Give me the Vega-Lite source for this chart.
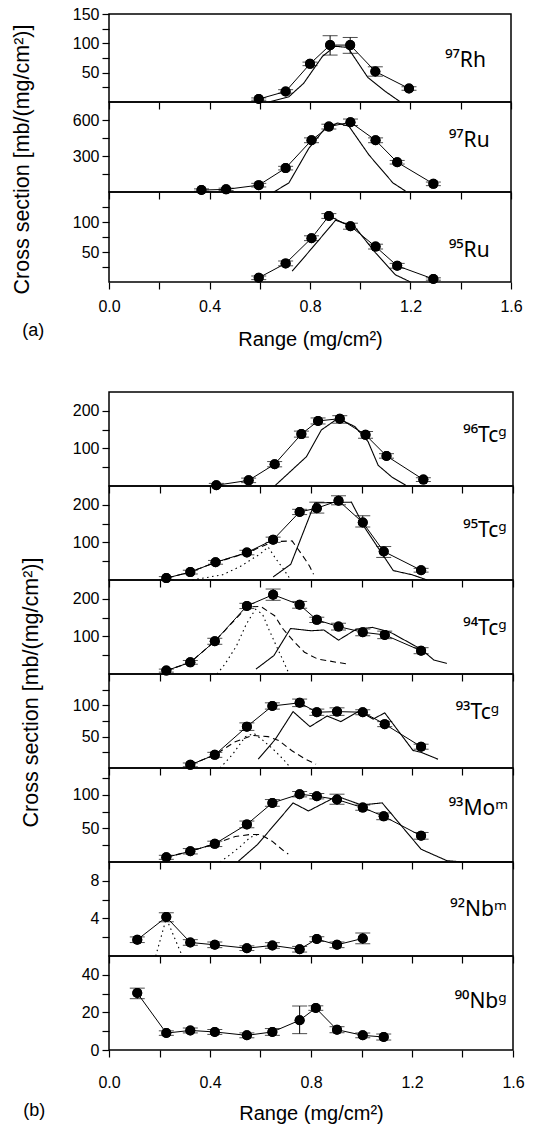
{
"$schema": "https://vega.github.io/schema/vega-lite/v6.json",
"padding": {"left": 10, "top": 5, "right": 5, "bottom": 0},
"config": {
 "font": "Liberation Sans",
 "view": {"stroke": "black", "strokeWidth": 1.5},
 "axis": {"domain": false, "grid": false, "labelFont": "Liberation Sans", "labelFontSize": 16, "labelColor": "black", "tickColor": "black", "tickWidth": 1.2, "tickSize": 7, "titleFont": "Liberation Sans", "titleFontSize": 21.5, "titleFontWeight": "normal", "titleColor": "black", "labelFlush": false, "labelOverlap": false, "labelPadding": 3},
 "title": {"font": "Liberation Sans", "fontSize": 18, "fontWeight": "normal", "color": "black"}
},
"datasets": {
 "pts": [
  {"p":"Rh97","x":0.596,"y":5,"lo":3,"hi":7},
  {"p":"Rh97","x":0.703,"y":18,"lo":15,"hi":21},
  {"p":"Rh97","x":0.800,"y":65,"lo":62,"hi":68},
  {"p":"Rh97","x":0.880,"y":97,"lo":80,"hi":113},
  {"p":"Rh97","x":0.960,"y":97,"lo":83,"hi":110},
  {"p":"Rh97","x":1.060,"y":52,"lo":44,"hi":60},
  {"p":"Rh97","x":1.194,"y":23,"lo":20,"hi":26},
  {"p":"Ru97","x":0.368,"y":16,"lo":6,"hi":26},
  {"p":"Ru97","x":0.466,"y":22,"lo":12,"hi":32},
  {"p":"Ru97","x":0.596,"y":57,"lo":42,"hi":72},
  {"p":"Ru97","x":0.703,"y":199,"lo":184,"hi":214},
  {"p":"Ru97","x":0.806,"y":431,"lo":411,"hi":451},
  {"p":"Ru97","x":0.875,"y":545,"lo":525,"hi":565},
  {"p":"Ru97","x":0.961,"y":581,"lo":554,"hi":608},
  {"p":"Ru97","x":1.061,"y":431,"lo":411,"hi":451},
  {"p":"Ru97","x":1.147,"y":248,"lo":233,"hi":263},
  {"p":"Ru97","x":1.291,"y":68,"lo":53,"hi":83},
  {"p":"Ru95","x":0.596,"y":7,"lo":4,"hi":10},
  {"p":"Ru95","x":0.703,"y":31,"lo":27,"hi":35},
  {"p":"Ru95","x":0.806,"y":73,"lo":69,"hi":77},
  {"p":"Ru95","x":0.875,"y":110,"lo":106,"hi":114},
  {"p":"Ru95","x":0.961,"y":93,"lo":88,"hi":98},
  {"p":"Ru95","x":1.061,"y":59,"lo":55,"hi":63},
  {"p":"Ru95","x":1.147,"y":27,"lo":23,"hi":31},
  {"p":"Ru95","x":1.291,"y":5,"lo":3,"hi":7},
  {"p":"Tc96","x":0.425,"y":2,"lo":0,"hi":7},
  {"p":"Tc96","x":0.553,"y":15,"lo":9,"hi":21},
  {"p":"Tc96","x":0.656,"y":58,"lo":51,"hi":65},
  {"p":"Tc96","x":0.762,"y":138,"lo":130,"hi":146},
  {"p":"Tc96","x":0.828,"y":173,"lo":165,"hi":181},
  {"p":"Tc96","x":0.914,"y":179,"lo":167,"hi":187},
  {"p":"Tc96","x":1.016,"y":136,"lo":127,"hi":145},
  {"p":"Tc96","x":1.099,"y":80,"lo":74,"hi":86},
  {"p":"Tc96","x":1.245,"y":17,"lo":12,"hi":22},
  {"p":"Tc95","x":0.227,"y":5,"lo":1,"hi":9},
  {"p":"Tc95","x":0.322,"y":21,"lo":16,"hi":26},
  {"p":"Tc95","x":0.422,"y":47,"lo":42,"hi":52},
  {"p":"Tc95","x":0.546,"y":73,"lo":67,"hi":79},
  {"p":"Tc95","x":0.650,"y":107,"lo":100,"hi":114},
  {"p":"Tc95","x":0.755,"y":181,"lo":174,"hi":188},
  {"p":"Tc95","x":0.823,"y":191,"lo":178,"hi":207},
  {"p":"Tc95","x":0.909,"y":211,"lo":200,"hi":224},
  {"p":"Tc95","x":1.005,"y":153,"lo":141,"hi":171},
  {"p":"Tc95","x":1.088,"y":76,"lo":60,"hi":89},
  {"p":"Tc95","x":1.236,"y":26,"lo":21,"hi":31},
  {"p":"Tc94","x":0.227,"y":9,"lo":5,"hi":13},
  {"p":"Tc94","x":0.322,"y":31,"lo":26,"hi":36},
  {"p":"Tc94","x":0.419,"y":87,"lo":79,"hi":95},
  {"p":"Tc94","x":0.546,"y":181,"lo":174,"hi":188},
  {"p":"Tc94","x":0.650,"y":211,"lo":196,"hi":226},
  {"p":"Tc94","x":0.755,"y":184,"lo":175,"hi":193},
  {"p":"Tc94","x":0.823,"y":144,"lo":137,"hi":151},
  {"p":"Tc94","x":0.909,"y":126,"lo":117,"hi":135},
  {"p":"Tc94","x":1.005,"y":111,"lo":102,"hi":120},
  {"p":"Tc94","x":1.092,"y":104,"lo":94,"hi":114},
  {"p":"Tc94","x":1.236,"y":62,"lo":54,"hi":70},
  {"p":"Tc93","x":0.322,"y":5,"lo":2,"hi":8},
  {"p":"Tc93","x":0.419,"y":21,"lo":17,"hi":25},
  {"p":"Tc93","x":0.546,"y":66,"lo":60,"hi":72},
  {"p":"Tc93","x":0.647,"y":99,"lo":94,"hi":104},
  {"p":"Tc93","x":0.755,"y":104,"lo":98,"hi":110},
  {"p":"Tc93","x":0.823,"y":89,"lo":84,"hi":94},
  {"p":"Tc93","x":0.903,"y":90,"lo":84,"hi":96},
  {"p":"Tc93","x":1.005,"y":89,"lo":85,"hi":93},
  {"p":"Tc93","x":1.092,"y":70,"lo":66,"hi":74},
  {"p":"Tc93","x":1.236,"y":34,"lo":30,"hi":38},
  {"p":"Mo93","x":0.227,"y":7,"lo":4,"hi":10},
  {"p":"Mo93","x":0.322,"y":16,"lo":12,"hi":20},
  {"p":"Mo93","x":0.419,"y":27,"lo":23,"hi":31},
  {"p":"Mo93","x":0.546,"y":56,"lo":51,"hi":61},
  {"p":"Mo93","x":0.647,"y":88,"lo":83,"hi":93},
  {"p":"Mo93","x":0.755,"y":101,"lo":97,"hi":105},
  {"p":"Mo93","x":0.823,"y":98,"lo":94,"hi":102},
  {"p":"Mo93","x":0.903,"y":93,"lo":86,"hi":101},
  {"p":"Mo93","x":1.005,"y":81,"lo":77,"hi":85},
  {"p":"Mo93","x":1.088,"y":68,"lo":63,"hi":73},
  {"p":"Mo93","x":1.236,"y":39,"lo":34,"hi":44},
  {"p":"Nb92","x":0.112,"y":1.73,"lo":1.43,"hi":2.03},
  {"p":"Nb92","x":0.227,"y":4.14,"lo":3.64,"hi":4.6},
  {"p":"Nb92","x":0.322,"y":1.44,"lo":1.14,"hi":1.74},
  {"p":"Nb92","x":0.419,"y":1.19,"lo":0.89,"hi":1.49},
  {"p":"Nb92","x":0.546,"y":0.83,"lo":0.58,"hi":1.08},
  {"p":"Nb92","x":0.647,"y":1.12,"lo":0.82,"hi":1.42},
  {"p":"Nb92","x":0.755,"y":0.72,"lo":0.42,"hi":1.02},
  {"p":"Nb92","x":0.823,"y":1.8,"lo":1.55,"hi":2.05},
  {"p":"Nb92","x":0.903,"y":1.19,"lo":0.89,"hi":1.49},
  {"p":"Nb92","x":1.005,"y":1.87,"lo":1.3,"hi":2.45},
  {"p":"Nb90","x":0.112,"y":30.3,"lo":27.3,"hi":32.9},
  {"p":"Nb90","x":0.227,"y":9.0,"lo":7.8,"hi":10.2},
  {"p":"Nb90","x":0.322,"y":10.4,"lo":9.1,"hi":11.7},
  {"p":"Nb90","x":0.419,"y":9.6,"lo":8.3,"hi":10.9},
  {"p":"Nb90","x":0.546,"y":7.8,"lo":6.5,"hi":9.1},
  {"p":"Nb90","x":0.647,"y":9.6,"lo":7.8,"hi":11.4},
  {"p":"Nb90","x":0.755,"y":15.8,"lo":8.7,"hi":23.4},
  {"p":"Nb90","x":0.819,"y":22.3,"lo":21.1,"hi":23.5},
  {"p":"Nb90","x":0.903,"y":10.8,"lo":9.2,"hi":12.4},
  {"p":"Nb90","x":1.005,"y":7.8,"lo":6.5,"hi":9.1},
  {"p":"Nb90","x":1.088,"y":6.9,"lo":5.3,"hi":8.5}
 ],
 "curves": [
  {"p":"Rh97","k":"solid","x":0.636,"y":0},{"p":"Rh97","k":"solid","x":0.716,"y":9},{"p":"Rh97","k":"solid","x":0.775,"y":32},{"p":"Rh97","k":"solid","x":0.85,"y":78},{"p":"Rh97","k":"solid","x":0.9,"y":95},{"p":"Rh97","k":"solid","x":0.95,"y":93},{"p":"Rh97","k":"solid","x":1.03,"y":42},{"p":"Rh97","k":"solid","x":1.1,"y":18},{"p":"Rh97","k":"solid","x":1.16,"y":0},
  {"p":"Ru97","k":"solid","x":0.656,"y":0},{"p":"Ru97","k":"solid","x":0.716,"y":76},{"p":"Ru97","k":"solid","x":0.795,"y":363},{"p":"Ru97","k":"solid","x":0.86,"y":530},{"p":"Ru97","k":"solid","x":0.91,"y":575},{"p":"Ru97","k":"solid","x":0.955,"y":548},{"p":"Ru97","k":"solid","x":1.035,"y":308},{"p":"Ru97","k":"solid","x":1.13,"y":76},{"p":"Ru97","k":"solid","x":1.18,"y":8},
  {"p":"Ru95","k":"solid","x":0.729,"y":18},{"p":"Ru95","k":"solid","x":0.809,"y":57},{"p":"Ru95","k":"solid","x":0.902,"y":103},{"p":"Ru95","k":"solid","x":0.98,"y":91},{"p":"Ru95","k":"solid","x":1.06,"y":49},{"p":"Ru95","k":"solid","x":1.14,"y":12},{"p":"Ru95","k":"solid","x":1.2,"y":0},
  {"p":"Tc96","k":"solid","x":0.656,"y":0},{"p":"Tc96","k":"solid","x":0.782,"y":78},{"p":"Tc96","k":"solid","x":0.841,"y":149},{"p":"Tc96","k":"solid","x":0.907,"y":180},{"p":"Tc96","k":"solid","x":0.974,"y":158},{"p":"Tc96","k":"solid","x":1.026,"y":118},{"p":"Tc96","k":"solid","x":1.066,"y":55},{"p":"Tc96","k":"solid","x":1.12,"y":24},{"p":"Tc96","k":"solid","x":1.175,"y":2},
  {"p":"Tc95","k":"solid","x":0.65,"y":8},{"p":"Tc95","k":"solid","x":0.72,"y":42},{"p":"Tc95","k":"solid","x":0.815,"y":205},{"p":"Tc95","k":"solid","x":0.96,"y":207},{"p":"Tc95","k":"solid","x":1.012,"y":140},{"p":"Tc95","k":"solid","x":1.126,"y":25},{"p":"Tc95","k":"solid","x":1.2,"y":14},{"p":"Tc95","k":"solid","x":1.26,"y":0},
  {"p":"Tc95","k":"dotted","x":0.33,"y":0},{"p":"Tc95","k":"dotted","x":0.45,"y":14},{"p":"Tc95","k":"dotted","x":0.52,"y":36},{"p":"Tc95","k":"dotted","x":0.6,"y":70},{"p":"Tc95","k":"dotted","x":0.63,"y":88},{"p":"Tc95","k":"dotted","x":0.66,"y":57},{"p":"Tc95","k":"dotted","x":0.69,"y":30},{"p":"Tc95","k":"dotted","x":0.72,"y":0},
  {"p":"Tc95","k":"dashed","x":0.23,"y":5},{"p":"Tc95","k":"dashed","x":0.32,"y":21},{"p":"Tc95","k":"dashed","x":0.42,"y":46},{"p":"Tc95","k":"dashed","x":0.55,"y":73},{"p":"Tc95","k":"dashed","x":0.65,"y":102},{"p":"Tc95","k":"dashed","x":0.725,"y":104},{"p":"Tc95","k":"dashed","x":0.755,"y":76},{"p":"Tc95","k":"dashed","x":0.78,"y":52},{"p":"Tc95","k":"dashed","x":0.795,"y":36},{"p":"Tc95","k":"dashed","x":0.81,"y":15},
  {"p":"Tc94","k":"solid","x":0.582,"y":13},{"p":"Tc94","k":"solid","x":0.653,"y":49},{"p":"Tc94","k":"solid","x":0.719,"y":121},{"p":"Tc94","k":"solid","x":0.8,"y":115},{"p":"Tc94","k":"solid","x":0.851,"y":117},{"p":"Tc94","k":"solid","x":0.909,"y":90},{"p":"Tc94","k":"solid","x":0.979,"y":119},{"p":"Tc94","k":"solid","x":1.044,"y":124},{"p":"Tc94","k":"solid","x":1.114,"y":111},{"p":"Tc94","k":"solid","x":1.236,"y":66},{"p":"Tc94","k":"solid","x":1.287,"y":37},{"p":"Tc94","k":"solid","x":1.338,"y":28},
  {"p":"Tc94","k":"dotted","x":0.428,"y":0},{"p":"Tc94","k":"dotted","x":0.46,"y":27},{"p":"Tc94","k":"dotted","x":0.505,"y":75},{"p":"Tc94","k":"dotted","x":0.544,"y":133},{"p":"Tc94","k":"dotted","x":0.58,"y":172},{"p":"Tc94","k":"dotted","x":0.608,"y":159},{"p":"Tc94","k":"dotted","x":0.633,"y":119},{"p":"Tc94","k":"dotted","x":0.659,"y":80},{"p":"Tc94","k":"dotted","x":0.69,"y":35},{"p":"Tc94","k":"dotted","x":0.71,"y":5},
  {"p":"Tc94","k":"dashed","x":0.227,"y":9},{"p":"Tc94","k":"dashed","x":0.322,"y":31},{"p":"Tc94","k":"dashed","x":0.419,"y":87},{"p":"Tc94","k":"dashed","x":0.546,"y":178},{"p":"Tc94","k":"dashed","x":0.6,"y":180},{"p":"Tc94","k":"dashed","x":0.656,"y":155},{"p":"Tc94","k":"dashed","x":0.69,"y":119},{"p":"Tc94","k":"dashed","x":0.736,"y":84},{"p":"Tc94","k":"dashed","x":0.774,"y":58},{"p":"Tc94","k":"dashed","x":0.826,"y":40},{"p":"Tc94","k":"dashed","x":0.903,"y":31},{"p":"Tc94","k":"dashed","x":0.941,"y":27},
  {"p":"Tc93","k":"solid","x":0.591,"y":14},{"p":"Tc93","k":"solid","x":0.659,"y":46},{"p":"Tc93","k":"solid","x":0.729,"y":90},{"p":"Tc93","k":"solid","x":0.796,"y":66},{"p":"Tc93","k":"solid","x":0.864,"y":83},{"p":"Tc93","k":"solid","x":0.918,"y":74},{"p":"Tc93","k":"solid","x":0.992,"y":91},{"p":"Tc93","k":"solid","x":1.046,"y":78},{"p":"Tc93","k":"solid","x":1.092,"y":88},{"p":"Tc93","k":"solid","x":1.204,"y":28},{"p":"Tc93","k":"solid","x":1.236,"y":25},{"p":"Tc93","k":"solid","x":1.303,"y":14},
  {"p":"Tc93","k":"dotted","x":0.44,"y":0},{"p":"Tc93","k":"dotted","x":0.49,"y":22},{"p":"Tc93","k":"dotted","x":0.54,"y":50},{"p":"Tc93","k":"dotted","x":0.575,"y":55},{"p":"Tc93","k":"dotted","x":0.61,"y":44},{"p":"Tc93","k":"dotted","x":0.65,"y":30},{"p":"Tc93","k":"dotted","x":0.69,"y":14},{"p":"Tc93","k":"dotted","x":0.72,"y":0},
  {"p":"Tc93","k":"dashed","x":0.322,"y":5},{"p":"Tc93","k":"dashed","x":0.419,"y":21},{"p":"Tc93","k":"dashed","x":0.5,"y":42},{"p":"Tc93","k":"dashed","x":0.57,"y":52},{"p":"Tc93","k":"dashed","x":0.63,"y":50},{"p":"Tc93","k":"dashed","x":0.672,"y":44},{"p":"Tc93","k":"dashed","x":0.723,"y":28},{"p":"Tc93","k":"dashed","x":0.774,"y":15},{"p":"Tc93","k":"dashed","x":0.82,"y":6},
  {"p":"Mo93","k":"solid","x":0.512,"y":1},{"p":"Mo93","k":"solid","x":0.588,"y":26},{"p":"Mo93","k":"solid","x":0.729,"y":88},{"p":"Mo93","k":"solid","x":0.79,"y":76},{"p":"Mo93","k":"solid","x":0.903,"y":98},{"p":"Mo93","k":"solid","x":0.999,"y":85},{"p":"Mo93","k":"solid","x":1.082,"y":88},{"p":"Mo93","k":"solid","x":1.236,"y":19},{"p":"Mo93","k":"solid","x":1.338,"y":2},{"p":"Mo93","k":"solid","x":1.4,"y":0},{"p":"Mo93","k":"solid","x":1.6,"y":0},
  {"p":"Mo93","k":"dotted","x":0.44,"y":0},{"p":"Mo93","k":"dotted","x":0.48,"y":11},{"p":"Mo93","k":"dotted","x":0.52,"y":23},{"p":"Mo93","k":"dotted","x":0.56,"y":37},{"p":"Mo93","k":"dotted","x":0.59,"y":41},
  {"p":"Mo93","k":"dashed","x":0.227,"y":7},{"p":"Mo93","k":"dashed","x":0.322,"y":16},{"p":"Mo93","k":"dashed","x":0.419,"y":27},{"p":"Mo93","k":"dashed","x":0.5,"y":38},{"p":"Mo93","k":"dashed","x":0.56,"y":41},{"p":"Mo93","k":"dashed","x":0.6,"y":41},{"p":"Mo93","k":"dashed","x":0.646,"y":31},{"p":"Mo93","k":"dashed","x":0.697,"y":15},{"p":"Mo93","k":"dashed","x":0.71,"y":12},
  {"p":"Nb92","k":"dotted","x":0.185,"y":0},{"p":"Nb92","k":"dotted","x":0.227,"y":4.0},{"p":"Nb92","k":"dotted","x":0.29,"y":0}
 ]
},
"spacing": 41,
"vconcat": [
 {
  "spacing": 0, "bounds": "flush",
  "title": {"text": "(a)", "orient": "bottom", "anchor": "start", "frame": "bounds", "offset": -28, "dx": 12},
  "vconcat": [
   {"width": 402, "height": 88, "resolve": {"axis": {"x": "independent", "y": "independent"}}, "layer": [
    {"data": {"name": "pts"}, "transform": [{"filter": "datum.p==='Rh97'"}], "mark": {"type": "point", "filled": true, "color": "black", "size": 100, "opacity": 1}, "encoding": {"x": {"field": "x", "type": "quantitative", "scale": {"domain": [0,1.6], "nice": false, "zero": false}, "axis": {"orient": "bottom", "values": [0,0.2,0.4,0.6,0.8,1,1.2,1.4,1.6], "labels": false, "title": null}}, "y": {"field": "y", "type": "quantitative", "scale": {"domain": [0,150], "nice": false, "zero": false}, "axis": {"orient": "left", "values": [25,50,75,100,125,150], "title": null, "labelExpr": "datum.value%50===0 ? datum.label : ''"}}}},
    {"data": {"name": "pts"}, "transform": [{"filter": "datum.p==='Rh97'"}], "mark": {"type": "line", "color": "black", "strokeWidth": 1}, "encoding": {"x": {"field": "x", "type": "quantitative", "scale": {"domain": [0,1.6], "nice": false, "zero": false}, "axis": null}, "y": {"field": "y", "type": "quantitative", "scale": {"domain": [0,150], "nice": false, "zero": false}, "axis": null}}},
    {"data": {"name": "curves"}, "transform": [{"filter": "datum.p==='Rh97'"}], "mark": {"type": "line", "color": "black", "strokeWidth": 1.1}, "encoding": {"x": {"field": "x", "type": "quantitative", "scale": {"domain": [0,1.6], "nice": false, "zero": false}, "axis": null}, "y": {"field": "y", "type": "quantitative", "scale": {"domain": [0,150], "nice": false, "zero": false}, "axis": null}, "strokeDash": {"field": "k", "type": "nominal", "scale": {"domain": ["solid","dotted","dashed"], "range": [[1,0],[1.5,3.5],[6,4]]}, "legend": null}}},
    {"data": {"name": "pts"}, "transform": [{"filter": "datum.p==='Rh97'"}], "mark": {"type": "errorbar", "ticks": {"size": 15}, "color": "black"}, "encoding": {"x": {"field": "x", "type": "quantitative", "scale": {"domain": [0,1.6], "nice": false, "zero": false}, "axis": null}, "y": {"field": "lo", "type": "quantitative", "scale": {"domain": [0,150], "nice": false, "zero": false}, "axis": null}, "y2": {"field": "hi"}}},
    {"data": {"name": "pts"}, "transform": [{"filter": "datum.p==='Rh97'"}], "mark": {"type": "point", "filled": true, "color": "black", "size": 100, "opacity": 1}, "encoding": {"x": {"field": "x", "type": "quantitative", "scale": {"domain": [0,1.6], "nice": false, "zero": false}, "axis": null}, "y": {"field": "y", "type": "quantitative", "scale": {"domain": [0,150], "nice": false, "zero": false}, "axis": null}}},
    {"data": {"values": [{"t": "⁹⁷Rh"}]}, "mark": {"type": "text", "align": "right", "baseline": "middle", "fontSize": 21, "font": "Noto Sans", "color": "black"}, "encoding": {"x": {"datum": 1.5, "type": "quantitative", "scale": {"domain": [0,1.6], "nice": false, "zero": false}, "axis": null}, "y": {"datum": 70, "type": "quantitative", "scale": {"domain": [0,150], "nice": false, "zero": false}, "axis": null}, "text": {"field": "t"}}}
   ]},
   {"width": 402, "height": 90, "resolve": {"axis": {"x": "independent", "y": "independent"}}, "layer": [
    {"data": {"name": "pts"}, "transform": [{"filter": "datum.p==='Ru97'"}], "mark": {"type": "point", "filled": true, "color": "black", "size": 100, "opacity": 1}, "encoding": {"x": {"field": "x", "type": "quantitative", "scale": {"domain": [0,1.6], "nice": false, "zero": false}, "axis": {"orient": "bottom", "values": [0,0.2,0.4,0.6,0.8,1,1.2,1.4,1.6], "labels": false, "title": null}}, "y": {"field": "y", "type": "quantitative", "scale": {"domain": [0,750], "nice": false, "zero": false}, "axis": {"orient": "left", "values": [150,300,450,600], "title": "Cross section [mb/(mg/cm²)]", "titleX": -87, "titleY": 57, "titleBaseline": "middle", "labelExpr": "datum.value%300===0 ? datum.label : ''"}}}},
    {"data": {"name": "pts"}, "transform": [{"filter": "datum.p==='Ru97'"}], "mark": {"type": "line", "color": "black", "strokeWidth": 1}, "encoding": {"x": {"field": "x", "type": "quantitative", "scale": {"domain": [0,1.6], "nice": false, "zero": false}, "axis": null}, "y": {"field": "y", "type": "quantitative", "scale": {"domain": [0,750], "nice": false, "zero": false}, "axis": null}}},
    {"data": {"name": "curves"}, "transform": [{"filter": "datum.p==='Ru97'"}], "mark": {"type": "line", "color": "black", "strokeWidth": 1.1}, "encoding": {"x": {"field": "x", "type": "quantitative", "scale": {"domain": [0,1.6], "nice": false, "zero": false}, "axis": null}, "y": {"field": "y", "type": "quantitative", "scale": {"domain": [0,750], "nice": false, "zero": false}, "axis": null}, "strokeDash": {"field": "k", "type": "nominal", "scale": {"domain": ["solid","dotted","dashed"], "range": [[1,0],[1.5,3.5],[6,4]]}, "legend": null}}},
    {"data": {"name": "pts"}, "transform": [{"filter": "datum.p==='Ru97'"}], "mark": {"type": "errorbar", "ticks": {"size": 15}, "color": "black"}, "encoding": {"x": {"field": "x", "type": "quantitative", "scale": {"domain": [0,1.6], "nice": false, "zero": false}, "axis": null}, "y": {"field": "lo", "type": "quantitative", "scale": {"domain": [0,750], "nice": false, "zero": false}, "axis": null}, "y2": {"field": "hi"}}},
    {"data": {"name": "pts"}, "transform": [{"filter": "datum.p==='Ru97'"}], "mark": {"type": "point", "filled": true, "color": "black", "size": 100, "opacity": 1}, "encoding": {"x": {"field": "x", "type": "quantitative", "scale": {"domain": [0,1.6], "nice": false, "zero": false}, "axis": null}, "y": {"field": "y", "type": "quantitative", "scale": {"domain": [0,750], "nice": false, "zero": false}, "axis": null}}},
    {"data": {"values": [{"t": "⁹⁷Ru"}]}, "mark": {"type": "text", "align": "right", "baseline": "middle", "fontSize": 21, "font": "Noto Sans", "color": "black"}, "encoding": {"x": {"datum": 1.515, "type": "quantitative", "scale": {"domain": [0,1.6], "nice": false, "zero": false}, "axis": null}, "y": {"datum": 422, "type": "quantitative", "scale": {"domain": [0,750], "nice": false, "zero": false}, "axis": null}, "text": {"field": "t"}}}
   ]},
   {"width": 402, "height": 90, "resolve": {"axis": {"x": "independent", "y": "independent"}}, "layer": [
    {"data": {"name": "pts"}, "transform": [{"filter": "datum.p==='Ru95'"}], "mark": {"type": "point", "filled": true, "color": "black", "size": 100, "opacity": 1}, "encoding": {"x": {"field": "x", "type": "quantitative", "scale": {"domain": [0,1.6], "nice": false, "zero": false}, "axis": {"orient": "bottom", "values": [0,0.2,0.4,0.6,0.8,1,1.2,1.4,1.6], "format": ".1f", "labelExpr": "round(datum.value*10)%4===0 ? datum.label : ''", "title": "Range (mg/cm²)", "titleFontSize": 20, "titlePadding": 15, "labelPadding": 9}}, "y": {"field": "y", "type": "quantitative", "scale": {"domain": [0,150], "nice": false, "zero": false}, "axis": {"orient": "left", "values": [25,50,75,100,125], "title": null, "labelExpr": "datum.value%50===0 ? datum.label : ''"}}}},
    {"data": {"name": "pts"}, "transform": [{"filter": "datum.p==='Ru95'"}], "mark": {"type": "line", "color": "black", "strokeWidth": 1}, "encoding": {"x": {"field": "x", "type": "quantitative", "scale": {"domain": [0,1.6], "nice": false, "zero": false}, "axis": null}, "y": {"field": "y", "type": "quantitative", "scale": {"domain": [0,150], "nice": false, "zero": false}, "axis": null}}},
    {"data": {"name": "curves"}, "transform": [{"filter": "datum.p==='Ru95'"}], "mark": {"type": "line", "color": "black", "strokeWidth": 1.1}, "encoding": {"x": {"field": "x", "type": "quantitative", "scale": {"domain": [0,1.6], "nice": false, "zero": false}, "axis": null}, "y": {"field": "y", "type": "quantitative", "scale": {"domain": [0,150], "nice": false, "zero": false}, "axis": null}, "strokeDash": {"field": "k", "type": "nominal", "scale": {"domain": ["solid","dotted","dashed"], "range": [[1,0],[1.5,3.5],[6,4]]}, "legend": null}}},
    {"data": {"name": "pts"}, "transform": [{"filter": "datum.p==='Ru95'"}], "mark": {"type": "errorbar", "ticks": {"size": 15}, "color": "black"}, "encoding": {"x": {"field": "x", "type": "quantitative", "scale": {"domain": [0,1.6], "nice": false, "zero": false}, "axis": null}, "y": {"field": "lo", "type": "quantitative", "scale": {"domain": [0,150], "nice": false, "zero": false}, "axis": null}, "y2": {"field": "hi"}}},
    {"data": {"name": "pts"}, "transform": [{"filter": "datum.p==='Ru95'"}], "mark": {"type": "point", "filled": true, "color": "black", "size": 100, "opacity": 1}, "encoding": {"x": {"field": "x", "type": "quantitative", "scale": {"domain": [0,1.6], "nice": false, "zero": false}, "axis": null}, "y": {"field": "y", "type": "quantitative", "scale": {"domain": [0,150], "nice": false, "zero": false}, "axis": null}}},
    {"data": {"values": [{"t": "⁹⁵Ru"}]}, "mark": {"type": "text", "align": "right", "baseline": "middle", "fontSize": 21, "font": "Noto Sans", "color": "black"}, "encoding": {"x": {"datum": 1.515, "type": "quantitative", "scale": {"domain": [0,1.6], "nice": false, "zero": false}, "axis": null}, "y": {"datum": 51, "type": "quantitative", "scale": {"domain": [0,150], "nice": false, "zero": false}, "axis": null}, "text": {"field": "t"}}}
   ]}
  ]
 },
 {
  "spacing": 0, "bounds": "flush",
  "title": {"text": "(b)", "orient": "bottom", "anchor": "start", "frame": "bounds", "offset": -22, "dx": 4},
  "vconcat": [
   {"width": 404, "height": 94, "resolve": {"axis": {"x": "independent", "y": "independent"}}, "layer": [
    {"data": {"name": "pts"}, "transform": [{"filter": "datum.p==='Tc96'"}], "mark": {"type": "point", "filled": true, "color": "black", "size": 100, "opacity": 1}, "encoding": {"x": {"field": "x", "type": "quantitative", "scale": {"domain": [0,1.6], "nice": false, "zero": false}, "axis": {"orient": "bottom", "values": [0,0.2,0.4,0.6,0.8,1,1.2,1.4,1.6], "labels": false, "title": null}}, "y": {"field": "y", "type": "quantitative", "scale": {"domain": [0,250], "nice": false, "zero": false}, "axis": {"orient": "left", "values": [50,100,150,200], "title": null, "labelExpr": "datum.value%100===0 ? datum.label : ''"}}}},
    {"data": {"name": "pts"}, "transform": [{"filter": "datum.p==='Tc96'"}], "mark": {"type": "line", "color": "black", "strokeWidth": 1}, "encoding": {"x": {"field": "x", "type": "quantitative", "scale": {"domain": [0,1.6], "nice": false, "zero": false}, "axis": null}, "y": {"field": "y", "type": "quantitative", "scale": {"domain": [0,250], "nice": false, "zero": false}, "axis": null}}},
    {"data": {"name": "curves"}, "transform": [{"filter": "datum.p==='Tc96'"}], "mark": {"type": "line", "color": "black", "strokeWidth": 1.1}, "encoding": {"x": {"field": "x", "type": "quantitative", "scale": {"domain": [0,1.6], "nice": false, "zero": false}, "axis": null}, "y": {"field": "y", "type": "quantitative", "scale": {"domain": [0,250], "nice": false, "zero": false}, "axis": null}, "strokeDash": {"field": "k", "type": "nominal", "scale": {"domain": ["solid","dotted","dashed"], "range": [[1,0],[1.5,3.5],[6,4]]}, "legend": null}}},
    {"data": {"name": "pts"}, "transform": [{"filter": "datum.p==='Tc96'"}], "mark": {"type": "errorbar", "ticks": {"size": 15}, "color": "black"}, "encoding": {"x": {"field": "x", "type": "quantitative", "scale": {"domain": [0,1.6], "nice": false, "zero": false}, "axis": null}, "y": {"field": "lo", "type": "quantitative", "scale": {"domain": [0,250], "nice": false, "zero": false}, "axis": null}, "y2": {"field": "hi"}}},
    {"data": {"name": "pts"}, "transform": [{"filter": "datum.p==='Tc96'"}], "mark": {"type": "point", "filled": true, "color": "black", "size": 100, "opacity": 1}, "encoding": {"x": {"field": "x", "type": "quantitative", "scale": {"domain": [0,1.6], "nice": false, "zero": false}, "axis": null}, "y": {"field": "y", "type": "quantitative", "scale": {"domain": [0,250], "nice": false, "zero": false}, "axis": null}}},
    {"data": {"values": [{"t": "⁹⁶Tcᵍ"}]}, "mark": {"type": "text", "align": "right", "baseline": "middle", "fontSize": 21, "font": "Noto Sans", "color": "black"}, "encoding": {"x": {"datum": 1.575, "type": "quantitative", "scale": {"domain": [0,1.6], "nice": false, "zero": false}, "axis": null}, "y": {"datum": 132, "type": "quantitative", "scale": {"domain": [0,250], "nice": false, "zero": false}, "axis": null}, "text": {"field": "t"}}}
   ]},
   {"width": 404, "height": 94, "resolve": {"axis": {"x": "independent", "y": "independent"}}, "layer": [
    {"data": {"name": "pts"}, "transform": [{"filter": "datum.p==='Tc95'"}], "mark": {"type": "point", "filled": true, "color": "black", "size": 100, "opacity": 1}, "encoding": {"x": {"field": "x", "type": "quantitative", "scale": {"domain": [0,1.6], "nice": false, "zero": false}, "axis": {"orient": "bottom", "values": [0,0.2,0.4,0.6,0.8,1,1.2,1.4,1.6], "labels": false, "title": null}}, "y": {"field": "y", "type": "quantitative", "scale": {"domain": [0,250], "nice": false, "zero": false}, "axis": {"orient": "left", "values": [50,100,150,200], "title": null, "labelExpr": "datum.value%100===0 ? datum.label : ''"}}}},
    {"data": {"name": "pts"}, "transform": [{"filter": "datum.p==='Tc95'"}], "mark": {"type": "line", "color": "black", "strokeWidth": 1}, "encoding": {"x": {"field": "x", "type": "quantitative", "scale": {"domain": [0,1.6], "nice": false, "zero": false}, "axis": null}, "y": {"field": "y", "type": "quantitative", "scale": {"domain": [0,250], "nice": false, "zero": false}, "axis": null}}},
    {"data": {"name": "curves"}, "transform": [{"filter": "datum.p==='Tc95'"}], "mark": {"type": "line", "color": "black", "strokeWidth": 1.1}, "encoding": {"x": {"field": "x", "type": "quantitative", "scale": {"domain": [0,1.6], "nice": false, "zero": false}, "axis": null}, "y": {"field": "y", "type": "quantitative", "scale": {"domain": [0,250], "nice": false, "zero": false}, "axis": null}, "strokeDash": {"field": "k", "type": "nominal", "scale": {"domain": ["solid","dotted","dashed"], "range": [[1,0],[1.5,3.5],[6,4]]}, "legend": null}}},
    {"data": {"name": "pts"}, "transform": [{"filter": "datum.p==='Tc95'"}], "mark": {"type": "errorbar", "ticks": {"size": 15}, "color": "black"}, "encoding": {"x": {"field": "x", "type": "quantitative", "scale": {"domain": [0,1.6], "nice": false, "zero": false}, "axis": null}, "y": {"field": "lo", "type": "quantitative", "scale": {"domain": [0,250], "nice": false, "zero": false}, "axis": null}, "y2": {"field": "hi"}}},
    {"data": {"name": "pts"}, "transform": [{"filter": "datum.p==='Tc95'"}], "mark": {"type": "point", "filled": true, "color": "black", "size": 100, "opacity": 1}, "encoding": {"x": {"field": "x", "type": "quantitative", "scale": {"domain": [0,1.6], "nice": false, "zero": false}, "axis": null}, "y": {"field": "y", "type": "quantitative", "scale": {"domain": [0,250], "nice": false, "zero": false}, "axis": null}}},
    {"data": {"values": [{"t": "⁹⁵Tcᵍ"}]}, "mark": {"type": "text", "align": "right", "baseline": "middle", "fontSize": 21, "font": "Noto Sans", "color": "black"}, "encoding": {"x": {"datum": 1.575, "type": "quantitative", "scale": {"domain": [0,1.6], "nice": false, "zero": false}, "axis": null}, "y": {"datum": 131, "type": "quantitative", "scale": {"domain": [0,250], "nice": false, "zero": false}, "axis": null}, "text": {"field": "t"}}}
   ]},
   {"width": 404, "height": 94, "resolve": {"axis": {"x": "independent", "y": "independent"}}, "layer": [
    {"data": {"name": "pts"}, "transform": [{"filter": "datum.p==='Tc94'"}], "mark": {"type": "point", "filled": true, "color": "black", "size": 100, "opacity": 1}, "encoding": {"x": {"field": "x", "type": "quantitative", "scale": {"domain": [0,1.6], "nice": false, "zero": false}, "axis": {"orient": "bottom", "values": [0,0.2,0.4,0.6,0.8,1,1.2,1.4,1.6], "labels": false, "title": null}}, "y": {"field": "y", "type": "quantitative", "scale": {"domain": [0,250], "nice": false, "zero": false}, "axis": {"orient": "left", "values": [50,100,150,200], "title": null, "labelExpr": "datum.value%100===0 ? datum.label : ''"}}}},
    {"data": {"name": "pts"}, "transform": [{"filter": "datum.p==='Tc94'"}], "mark": {"type": "line", "color": "black", "strokeWidth": 1}, "encoding": {"x": {"field": "x", "type": "quantitative", "scale": {"domain": [0,1.6], "nice": false, "zero": false}, "axis": null}, "y": {"field": "y", "type": "quantitative", "scale": {"domain": [0,250], "nice": false, "zero": false}, "axis": null}}},
    {"data": {"name": "curves"}, "transform": [{"filter": "datum.p==='Tc94'"}], "mark": {"type": "line", "color": "black", "strokeWidth": 1.1}, "encoding": {"x": {"field": "x", "type": "quantitative", "scale": {"domain": [0,1.6], "nice": false, "zero": false}, "axis": null}, "y": {"field": "y", "type": "quantitative", "scale": {"domain": [0,250], "nice": false, "zero": false}, "axis": null}, "strokeDash": {"field": "k", "type": "nominal", "scale": {"domain": ["solid","dotted","dashed"], "range": [[1,0],[1.5,3.5],[6,4]]}, "legend": null}}},
    {"data": {"name": "pts"}, "transform": [{"filter": "datum.p==='Tc94'"}], "mark": {"type": "errorbar", "ticks": {"size": 15}, "color": "black"}, "encoding": {"x": {"field": "x", "type": "quantitative", "scale": {"domain": [0,1.6], "nice": false, "zero": false}, "axis": null}, "y": {"field": "lo", "type": "quantitative", "scale": {"domain": [0,250], "nice": false, "zero": false}, "axis": null}, "y2": {"field": "hi"}}},
    {"data": {"name": "pts"}, "transform": [{"filter": "datum.p==='Tc94'"}], "mark": {"type": "point", "filled": true, "color": "black", "size": 100, "opacity": 1}, "encoding": {"x": {"field": "x", "type": "quantitative", "scale": {"domain": [0,1.6], "nice": false, "zero": false}, "axis": null}, "y": {"field": "y", "type": "quantitative", "scale": {"domain": [0,250], "nice": false, "zero": false}, "axis": null}}},
    {"data": {"values": [{"t": "⁹⁴Tcᵍ"}]}, "mark": {"type": "text", "align": "right", "baseline": "middle", "fontSize": 21, "font": "Noto Sans", "color": "black"}, "encoding": {"x": {"datum": 1.575, "type": "quantitative", "scale": {"domain": [0,1.6], "nice": false, "zero": false}, "axis": null}, "y": {"datum": 119, "type": "quantitative", "scale": {"domain": [0,250], "nice": false, "zero": false}, "axis": null}, "text": {"field": "t"}}}
   ]},
   {"width": 404, "height": 94, "resolve": {"axis": {"x": "independent", "y": "independent"}}, "layer": [
    {"data": {"name": "pts"}, "transform": [{"filter": "datum.p==='Tc93'"}], "mark": {"type": "point", "filled": true, "color": "black", "size": 100, "opacity": 1}, "encoding": {"x": {"field": "x", "type": "quantitative", "scale": {"domain": [0,1.6], "nice": false, "zero": false}, "axis": {"orient": "bottom", "values": [0,0.2,0.4,0.6,0.8,1,1.2,1.4,1.6], "labels": false, "title": null}}, "y": {"field": "y", "type": "quantitative", "scale": {"domain": [0,150], "nice": false, "zero": false}, "axis": {"orient": "left", "values": [25,50,75,100,125], "title": "Cross section [mb/(mg/cm²)]", "titleX": -78, "titleY": 18, "titleBaseline": "middle", "labelExpr": "datum.value%50===0 ? datum.label : ''"}}}},
    {"data": {"name": "pts"}, "transform": [{"filter": "datum.p==='Tc93'"}], "mark": {"type": "line", "color": "black", "strokeWidth": 1}, "encoding": {"x": {"field": "x", "type": "quantitative", "scale": {"domain": [0,1.6], "nice": false, "zero": false}, "axis": null}, "y": {"field": "y", "type": "quantitative", "scale": {"domain": [0,150], "nice": false, "zero": false}, "axis": null}}},
    {"data": {"name": "curves"}, "transform": [{"filter": "datum.p==='Tc93'"}], "mark": {"type": "line", "color": "black", "strokeWidth": 1.1}, "encoding": {"x": {"field": "x", "type": "quantitative", "scale": {"domain": [0,1.6], "nice": false, "zero": false}, "axis": null}, "y": {"field": "y", "type": "quantitative", "scale": {"domain": [0,150], "nice": false, "zero": false}, "axis": null}, "strokeDash": {"field": "k", "type": "nominal", "scale": {"domain": ["solid","dotted","dashed"], "range": [[1,0],[1.5,3.5],[6,4]]}, "legend": null}}},
    {"data": {"name": "pts"}, "transform": [{"filter": "datum.p==='Tc93'"}], "mark": {"type": "errorbar", "ticks": {"size": 15}, "color": "black"}, "encoding": {"x": {"field": "x", "type": "quantitative", "scale": {"domain": [0,1.6], "nice": false, "zero": false}, "axis": null}, "y": {"field": "lo", "type": "quantitative", "scale": {"domain": [0,150], "nice": false, "zero": false}, "axis": null}, "y2": {"field": "hi"}}},
    {"data": {"name": "pts"}, "transform": [{"filter": "datum.p==='Tc93'"}], "mark": {"type": "point", "filled": true, "color": "black", "size": 100, "opacity": 1}, "encoding": {"x": {"field": "x", "type": "quantitative", "scale": {"domain": [0,1.6], "nice": false, "zero": false}, "axis": null}, "y": {"field": "y", "type": "quantitative", "scale": {"domain": [0,150], "nice": false, "zero": false}, "axis": null}}},
    {"data": {"values": [{"t": "⁹³Tcᵍ"}]}, "mark": {"type": "text", "align": "right", "baseline": "middle", "fontSize": 21, "font": "Noto Sans", "color": "black"}, "encoding": {"x": {"datum": 1.545, "type": "quantitative", "scale": {"domain": [0,1.6], "nice": false, "zero": false}, "axis": null}, "y": {"datum": 88, "type": "quantitative", "scale": {"domain": [0,150], "nice": false, "zero": false}, "axis": null}, "text": {"field": "t"}}}
   ]},
   {"width": 404, "height": 94, "resolve": {"axis": {"x": "independent", "y": "independent"}}, "layer": [
    {"data": {"name": "pts"}, "transform": [{"filter": "datum.p==='Mo93'"}], "mark": {"type": "point", "filled": true, "color": "black", "size": 100, "opacity": 1}, "encoding": {"x": {"field": "x", "type": "quantitative", "scale": {"domain": [0,1.6], "nice": false, "zero": false}, "axis": {"orient": "bottom", "values": [0,0.2,0.4,0.6,0.8,1,1.2,1.4,1.6], "labels": false, "title": null}}, "y": {"field": "y", "type": "quantitative", "scale": {"domain": [0,140], "nice": false, "zero": false}, "axis": {"orient": "left", "values": [25,50,75,100,125], "title": null, "labelExpr": "datum.value%50===0 ? datum.label : ''"}}}},
    {"data": {"name": "pts"}, "transform": [{"filter": "datum.p==='Mo93'"}], "mark": {"type": "line", "color": "black", "strokeWidth": 1}, "encoding": {"x": {"field": "x", "type": "quantitative", "scale": {"domain": [0,1.6], "nice": false, "zero": false}, "axis": null}, "y": {"field": "y", "type": "quantitative", "scale": {"domain": [0,140], "nice": false, "zero": false}, "axis": null}}},
    {"data": {"name": "curves"}, "transform": [{"filter": "datum.p==='Mo93'"}], "mark": {"type": "line", "color": "black", "strokeWidth": 1.1}, "encoding": {"x": {"field": "x", "type": "quantitative", "scale": {"domain": [0,1.6], "nice": false, "zero": false}, "axis": null}, "y": {"field": "y", "type": "quantitative", "scale": {"domain": [0,140], "nice": false, "zero": false}, "axis": null}, "strokeDash": {"field": "k", "type": "nominal", "scale": {"domain": ["solid","dotted","dashed"], "range": [[1,0],[1.5,3.5],[6,4]]}, "legend": null}}},
    {"data": {"name": "pts"}, "transform": [{"filter": "datum.p==='Mo93'"}], "mark": {"type": "errorbar", "ticks": {"size": 15}, "color": "black"}, "encoding": {"x": {"field": "x", "type": "quantitative", "scale": {"domain": [0,1.6], "nice": false, "zero": false}, "axis": null}, "y": {"field": "lo", "type": "quantitative", "scale": {"domain": [0,140], "nice": false, "zero": false}, "axis": null}, "y2": {"field": "hi"}}},
    {"data": {"name": "pts"}, "transform": [{"filter": "datum.p==='Mo93'"}], "mark": {"type": "point", "filled": true, "color": "black", "size": 100, "opacity": 1}, "encoding": {"x": {"field": "x", "type": "quantitative", "scale": {"domain": [0,1.6], "nice": false, "zero": false}, "axis": null}, "y": {"field": "y", "type": "quantitative", "scale": {"domain": [0,140], "nice": false, "zero": false}, "axis": null}}},
    {"data": {"values": [{"t": "⁹³Moᵐ"}]}, "mark": {"type": "text", "align": "right", "baseline": "middle", "fontSize": 21, "font": "Noto Sans", "color": "black"}, "encoding": {"x": {"datum": 1.58, "type": "quantitative", "scale": {"domain": [0,1.6], "nice": false, "zero": false}, "axis": null}, "y": {"datum": 79, "type": "quantitative", "scale": {"domain": [0,140], "nice": false, "zero": false}, "axis": null}, "text": {"field": "t"}}}
   ]},
   {"width": 404, "height": 94, "resolve": {"axis": {"x": "independent", "y": "independent"}}, "layer": [
    {"data": {"name": "pts"}, "transform": [{"filter": "datum.p==='Nb92'"}], "mark": {"type": "point", "filled": true, "color": "black", "size": 100, "opacity": 1}, "encoding": {"x": {"field": "x", "type": "quantitative", "scale": {"domain": [0,1.6], "nice": false, "zero": false}, "axis": {"orient": "bottom", "values": [0,0.2,0.4,0.6,0.8,1,1.2,1.4,1.6], "labels": false, "title": null}}, "y": {"field": "y", "type": "quantitative", "scale": {"domain": [0,10], "nice": false, "zero": false}, "axis": {"orient": "left", "values": [2,4,6,8], "title": null, "labelExpr": "datum.value%4===0 ? datum.label : ''"}}}},
    {"data": {"name": "pts"}, "transform": [{"filter": "datum.p==='Nb92'"}], "mark": {"type": "line", "color": "black", "strokeWidth": 1}, "encoding": {"x": {"field": "x", "type": "quantitative", "scale": {"domain": [0,1.6], "nice": false, "zero": false}, "axis": null}, "y": {"field": "y", "type": "quantitative", "scale": {"domain": [0,10], "nice": false, "zero": false}, "axis": null}}},
    {"data": {"name": "curves"}, "transform": [{"filter": "datum.p==='Nb92'"}], "mark": {"type": "line", "color": "black", "strokeWidth": 1.1}, "encoding": {"x": {"field": "x", "type": "quantitative", "scale": {"domain": [0,1.6], "nice": false, "zero": false}, "axis": null}, "y": {"field": "y", "type": "quantitative", "scale": {"domain": [0,10], "nice": false, "zero": false}, "axis": null}, "strokeDash": {"field": "k", "type": "nominal", "scale": {"domain": ["solid","dotted","dashed"], "range": [[1,0],[1.5,3.5],[6,4]]}, "legend": null}}},
    {"data": {"name": "pts"}, "transform": [{"filter": "datum.p==='Nb92'"}], "mark": {"type": "errorbar", "ticks": {"size": 15}, "color": "black"}, "encoding": {"x": {"field": "x", "type": "quantitative", "scale": {"domain": [0,1.6], "nice": false, "zero": false}, "axis": null}, "y": {"field": "lo", "type": "quantitative", "scale": {"domain": [0,10], "nice": false, "zero": false}, "axis": null}, "y2": {"field": "hi"}}},
    {"data": {"name": "pts"}, "transform": [{"filter": "datum.p==='Nb92'"}], "mark": {"type": "point", "filled": true, "color": "black", "size": 100, "opacity": 1}, "encoding": {"x": {"field": "x", "type": "quantitative", "scale": {"domain": [0,1.6], "nice": false, "zero": false}, "axis": null}, "y": {"field": "y", "type": "quantitative", "scale": {"domain": [0,10], "nice": false, "zero": false}, "axis": null}}},
    {"data": {"values": [{"t": "⁹²Nbᵐ"}]}, "mark": {"type": "text", "align": "right", "baseline": "middle", "fontSize": 21, "font": "Noto Sans", "color": "black"}, "encoding": {"x": {"datum": 1.575, "type": "quantitative", "scale": {"domain": [0,1.6], "nice": false, "zero": false}, "axis": null}, "y": {"datum": 4.9, "type": "quantitative", "scale": {"domain": [0,10], "nice": false, "zero": false}, "axis": null}, "text": {"field": "t"}}}
   ]},
   {"width": 404, "height": 94, "resolve": {"axis": {"x": "independent", "y": "independent"}}, "layer": [
    {"data": {"name": "pts"}, "transform": [{"filter": "datum.p==='Nb90'"}], "mark": {"type": "point", "filled": true, "color": "black", "size": 100, "opacity": 1}, "encoding": {"x": {"field": "x", "type": "quantitative", "scale": {"domain": [0,1.6], "nice": false, "zero": false}, "axis": {"orient": "bottom", "values": [0,0.2,0.4,0.6,0.8,1,1.2,1.4,1.6], "format": ".1f", "labelExpr": "round(datum.value*10)%4===0 ? datum.label : ''", "title": "Range (mg/cm²)", "titleFontSize": 20, "titlePadding": 13, "labelPadding": 17}}, "y": {"field": "y", "type": "quantitative", "scale": {"domain": [0,50], "nice": false, "zero": false}, "axis": {"orient": "left", "values": [0,10,20,30,40], "title": null, "labelExpr": "datum.value%20===0 ? datum.label : ''"}}}},
    {"data": {"name": "pts"}, "transform": [{"filter": "datum.p==='Nb90'"}], "mark": {"type": "line", "color": "black", "strokeWidth": 1}, "encoding": {"x": {"field": "x", "type": "quantitative", "scale": {"domain": [0,1.6], "nice": false, "zero": false}, "axis": null}, "y": {"field": "y", "type": "quantitative", "scale": {"domain": [0,50], "nice": false, "zero": false}, "axis": null}}},
    {"data": {"name": "pts"}, "transform": [{"filter": "datum.p==='Nb90'"}], "mark": {"type": "errorbar", "ticks": {"size": 15}, "color": "black"}, "encoding": {"x": {"field": "x", "type": "quantitative", "scale": {"domain": [0,1.6], "nice": false, "zero": false}, "axis": null}, "y": {"field": "lo", "type": "quantitative", "scale": {"domain": [0,50], "nice": false, "zero": false}, "axis": null}, "y2": {"field": "hi"}}},
    {"data": {"name": "pts"}, "transform": [{"filter": "datum.p==='Nb90'"}], "mark": {"type": "point", "filled": true, "color": "black", "size": 100, "opacity": 1}, "encoding": {"x": {"field": "x", "type": "quantitative", "scale": {"domain": [0,1.6], "nice": false, "zero": false}, "axis": null}, "y": {"field": "y", "type": "quantitative", "scale": {"domain": [0,50], "nice": false, "zero": false}, "axis": null}}},
    {"data": {"values": [{"t": "⁹⁰Nbᵍ"}]}, "mark": {"type": "text", "align": "right", "baseline": "middle", "fontSize": 21, "font": "Noto Sans", "color": "black"}, "encoding": {"x": {"datum": 1.575, "type": "quantitative", "scale": {"domain": [0,1.6], "nice": false, "zero": false}, "axis": null}, "y": {"datum": 25.5, "type": "quantitative", "scale": {"domain": [0,50], "nice": false, "zero": false}, "axis": null}, "text": {"field": "t"}}}
   ]}
  ]
 }
]
}
